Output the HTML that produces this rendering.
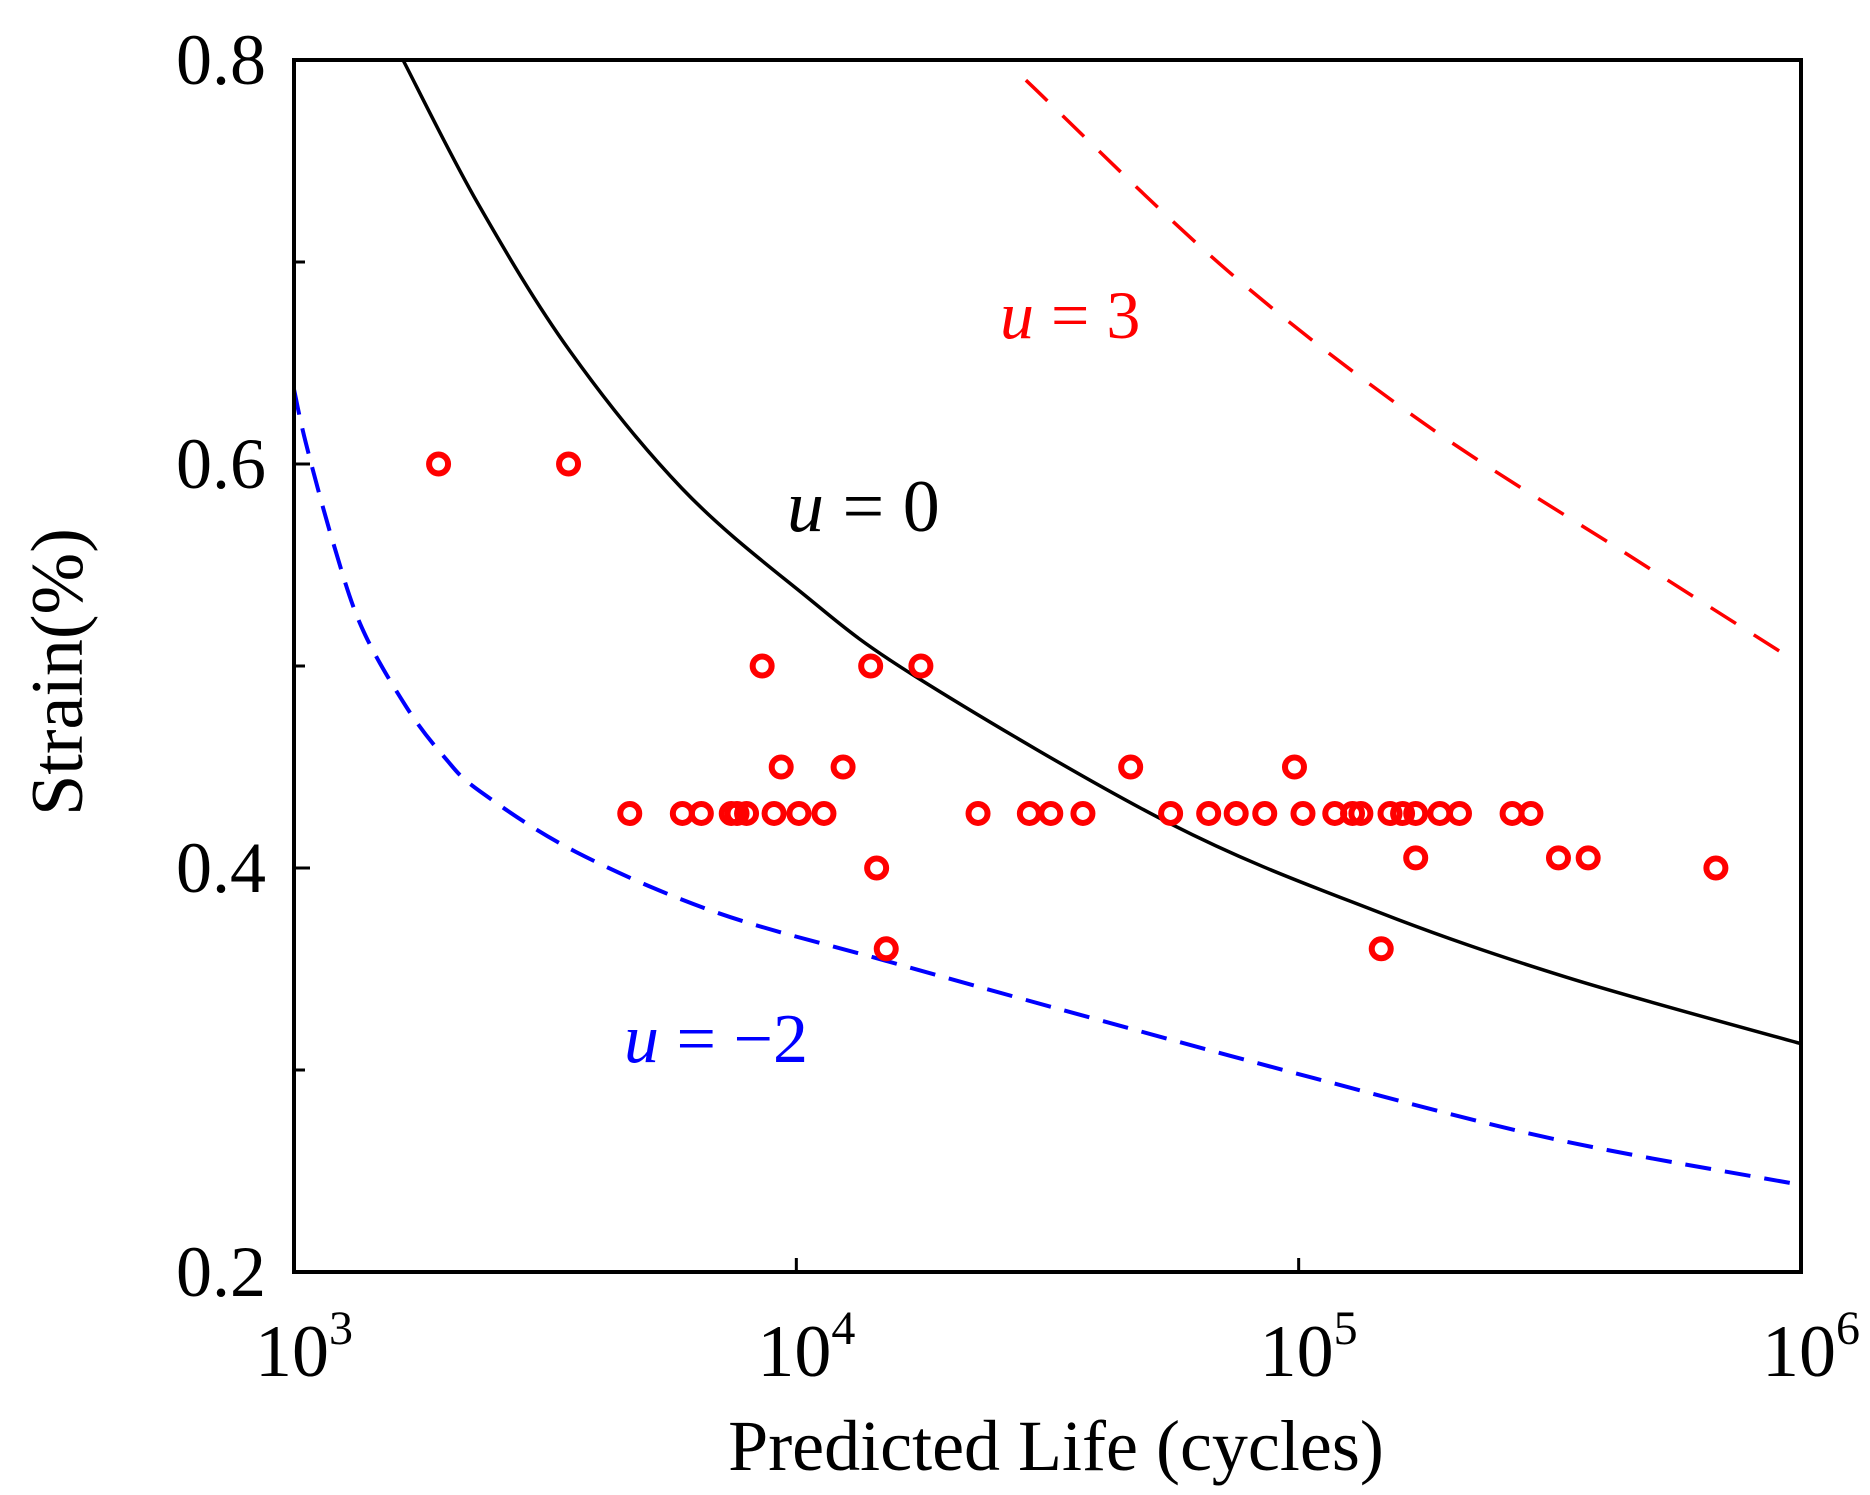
<!DOCTYPE html>
<html><head><meta charset="utf-8">
<style>
html,body{margin:0;padding:0;background:#fff;}
svg{display:block;font-family:"Liberation Serif",serif;}
</style></head>
<body>
<svg id="chart" width="1870" height="1495" viewBox="0 0 1870 1495" xmlns="http://www.w3.org/2000/svg">
<g id="marks"></g>
<rect x="294" y="60" width="1507" height="1212" fill="none" stroke="#000" stroke-width="4"/>
<g id="axes"></g>
<text x="1056" y="1470" font-size="72" text-anchor="middle">Predicted Life (cycles)</text>
<text transform="translate(82,672) rotate(-90)" font-size="74" text-anchor="middle">Strain(%)</text>
<text x="1000" y="338" font-size="68" fill="#ff0000"><tspan font-style="italic">u</tspan> = 3</text>
<text x="787" y="531" font-size="74" fill="#000"><tspan font-style="italic">u</tspan> = 0</text>
<text x="624" y="1062" font-size="70" fill="#0000ff"><tspan font-style="italic">u</tspan> = −2</text>
</svg>
<script>
const dataN = [1940,3520,8550,14060,17700,9330,12390,46300,98100,
 4660,5930,6470,7420,7620,7960,9030,10120,11350,23000,29100,32100,37200,55600,66200,75100,85600,102000,118000,128000,133000,152000,161000,171000,191000,209000,266000,290000,
 14450,677000,171000,329000,377000,15100,146000];
const dataStrain = [0.6,0.6,0.5,0.5,0.5,0.45,0.45,0.45,0.45,
 0.427,0.427,0.427,0.427,0.427,0.427,0.427,0.427,0.427,0.427,0.427,0.427,0.427,0.427,0.427,0.427,0.427,0.427,0.427,0.427,0.427,0.427,0.427,0.427,0.427,0.427,0.427,0.427,
 0.4,0.4,0.405,0.405,0.405,0.36,0.36];
const u0LogN = [3.217,3.366,3.549,3.772,4.007,4.236,4.744,5.15,5.532,6.0];
const u0Strain = [0.8,0.729,0.656,0.588,0.537,0.495,0.422,0.379,0.346,0.313];
const u3LogN = [4.457,4.857,5.25,5.656,5.972];
const u3Strain = [0.790,0.696,0.620,0.555,0.505];
const um2LogN = [3.0,3.024,3.078,3.135,3.223,3.299,3.37,3.561,3.841,4.179,4.555,5.03,5.505,5.98];
const um2Strain = [0.637,0.610,0.561,0.519,0.480,0.455,0.438,0.408,0.378,0.354,0.328,0.296,0.266,0.244];
const yTicks = [0.2,0.4,0.6,0.8];
const yMinor = [0.3,0.5,0.7];
const yTickLabels = ["0.2","0.4","0.6","0.8"];
const xExps = [3,4,5,6];

const X0=294,X1=1801,Y0=1272,Y1=60;
function xLog(l){return X0+(l-3)/3*(X1-X0);}
function xScale(n){return xLog(Math.log10(n));}
function yScale(v){return Y0-(v-0.2)/0.6*(Y0-Y1);}
const NS="http://www.w3.org/2000/svg";
const marks=document.getElementById('marks');
const axes=document.getElementById('axes');
function mk(t,attrs,parent){const e=document.createElementNS(NS,t);for(const k in attrs)e.setAttribute(k,attrs[k]);parent.appendChild(e);return e;}
function smoothPath(xs,ys){
 const p=xs.map((l,i)=>[xLog(l),yScale(ys[i])]);
 let d="M"+p[0][0]+","+p[0][1];
 for(let i=0;i<p.length-1;i++){
  const a=p[i-1]||p[i],b=p[i],c=p[i+1],e=p[i+2]||c;
  const c1=[b[0]+(c[0]-a[0])/6,b[1]+(c[1]-a[1])/6];
  const c2=[c[0]-(e[0]-b[0])/6,c[1]-(e[1]-b[1])/6];
  d+=" C"+c1+" "+c2+" "+c;
 }
 return d;
}
let pth;
pth=mk('path',{d:smoothPath(u0LogN,u0Strain),fill:'none',stroke:'#000','stroke-width':3.5},marks);


pth=mk('path',{d:smoothPath(u3LogN,u3Strain),fill:'none',stroke:'#ff0000','stroke-width':3.5,'stroke-dasharray':'30 21'},marks);


pth=mk('path',{d:smoothPath(um2LogN,um2Strain),fill:'none',stroke:'#0000ff','stroke-width':4,'stroke-dasharray':'26 14'},marks);


dataN.forEach((n,i)=>{
 const c=mk('circle',{cx:xScale(n),cy:yScale(dataStrain[i]),r:9.5,fill:'none',stroke:'#ff0000','stroke-width':6},marks);
 
 
});
yTicks.forEach((v,i)=>{
 const t=mk('line',{x1:X0,x2:X0+16,y1:yScale(v),y2:yScale(v),stroke:'#000','stroke-width':3},axes);
 
 
 const tx=mk('text',{x:266,y:yScale(v)+24,'font-size':72,'text-anchor':'end'},axes);
 tx.textContent=yTickLabels[i];
 
 
});
yMinor.forEach(v=>{
 const t=mk('line',{x1:X0,x2:X0+11,y1:yScale(v),y2:yScale(v),stroke:'#000','stroke-width':3},axes);
 
 
});
xExps.forEach(e=>{
 const x=xLog(e);
 const t=mk('line',{x1:x,x2:x,y1:Y0,y2:Y0-14,stroke:'#000','stroke-width':3},axes);
 
 
 const tx=mk('text',{x:x+10,y:1376,'font-size':74,'text-anchor':'middle'},axes);
 
 
 tx.appendChild(document.createTextNode('10'));
 const s=mk('tspan',{dy:-32,'font-size':48},tx);
 s.textContent=String(e);
});
</script>
</body></html>
